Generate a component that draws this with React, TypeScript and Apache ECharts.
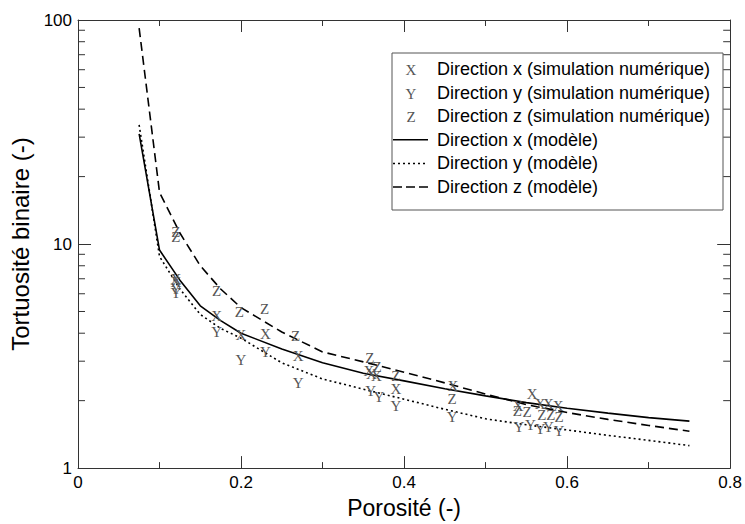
import React, { useEffect, useRef } from 'react';
import * as echarts from 'echarts';

// Model curves (porosity -> tortuosity)
const modelPorosity = [0.075, 0.1, 0.125, 0.15, 0.175, 0.2, 0.25, 0.3, 0.35, 0.4, 0.45, 0.5, 0.55, 0.6, 0.65, 0.7, 0.75];
const modelX = [31, 9.4, 6.9, 5.3, 4.55, 4.0, 3.4, 2.95, 2.65, 2.45, 2.26, 2.1, 1.96, 1.85, 1.76, 1.68, 1.62];
const modelY = [34, 8.8, 6.3, 4.85, 4.2, 3.8, 2.95, 2.5, 2.25, 2.03, 1.83, 1.66, 1.56, 1.48, 1.4, 1.33, 1.26];
const modelZ = [92, 17, 11.2, 8.0, 6.3, 5.2, 4.05, 3.3, 2.98, 2.68, 2.4, 2.14, 1.92, 1.77, 1.65, 1.55, 1.46];

// Numerical simulation points
const simXPorosity = [0.12, 0.12, 0.17, 0.2, 0.23, 0.27, 0.357, 0.36, 0.366, 0.39, 0.46, 0.54, 0.557, 0.567, 0.577, 0.589];
const simXValues = [7.0, 6.8, 4.78, 3.91, 3.98, 3.16, 2.7, 2.62, 2.58, 2.25, 2.32, 1.9, 2.14, 1.93, 1.93, 1.9];
const simYPorosity = [0.12, 0.12, 0.17, 0.2, 0.23, 0.27, 0.359, 0.369, 0.39, 0.459, 0.541, 0.555, 0.567, 0.577, 0.59];
const simYValues = [6.05, 6.3, 4.05, 3.04, 3.31, 2.4, 2.21, 2.07, 1.9, 1.69, 1.53, 1.55, 1.49, 1.53, 1.46];
const simZPorosity = [0.12, 0.12, 0.17, 0.198, 0.229, 0.267, 0.358, 0.367, 0.39, 0.459, 0.539, 0.551, 0.569, 0.58, 0.59];
const simZValues = [11.3, 10.8, 6.2, 4.95, 5.12, 3.9, 3.09, 2.84, 2.57, 2.03, 1.79, 1.78, 1.73, 1.72, 1.69];

// Axis
const xTicks = { min: 0, max: 0.8, interval: 0.2 };
const yRange = { min: 1, max: 100 };
const yMinorTickValues = [2, 3, 4, 5, 6, 7, 8, 9, 20, 30, 40, 50, 60, 70, 80, 90];

// Legend labels
const legendLabels = [
  'Direction x (simulation numérique)',
  'Direction y (simulation numérique)',
  'Direction z (simulation numérique)',
  'Direction x (modèle)',
  'Direction y (modèle)',
  'Direction z (modèle)',
];
const glyphs = ['X', 'Y', 'Z'];

const SANS = '"Liberation Sans", Arial, Helvetica, sans-serif';
const SERIF = '"Liberation Serif", "Times New Roman", serif';
const AXIS_COLOR = '#333';
const GLYPH_COLOR = '#555';

export default function App() {
  const ref = useRef<HTMLDivElement>(null);

  useEffect(() => {
    if (!ref.current) return;
    const chart = echarts.init(ref.current, null, { renderer: 'svg' });

    const glyphSeries = (name: string, letter: string, xs: number[], ys: number[]) => ({
      type: 'custom',
      name,
      xAxisIndex: 0,
      yAxisIndex: 0,
      encode: { x: 0, y: 1 },
      data: xs.map((x, i) => [x, ys[i]]),
      clip: false,
      z: 4,
      silent: true,
      renderItem: (_p: any, api: any) => {
        const pt = api.coord([api.value(0), api.value(1)]);
        return {
          type: 'text',
          x: pt[0],
          y: pt[1],
          style: {
            text: letter,
            fill: GLYPH_COLOR,
            font: `15px ${SERIF}`,
            align: 'center',
            verticalAlign: 'middle',
          },
        };
      },
    });

    const lineSeries = (name: string, vals: number[], type: any, width: number) => ({
      type: 'line',
      name,
      xAxisIndex: 0,
      yAxisIndex: 0,
      data: modelPorosity.map((x, i) => [x, vals[i]]),
      symbol: 'none',
      silent: true,
      z: 3,
      lineStyle: { color: '#000', width, type },
    });

    const tickStyle = { color: AXIS_COLOR, width: 1 };
    const rowY = (i: number) => 69 + i * 23.6;
    const legendGraphics: any[] = [
      {
        type: 'rect',
        shape: { x: 392, y: 53, width: 331, height: 157 },
        style: { fill: '#fff', stroke: '#555', lineWidth: 1 },
        z: 10,
      },
    ];
    legendLabels.forEach((label, i) => {
      legendGraphics.push({
        type: 'text',
        x: 437,
        y: rowY(i),
        style: { text: label, font: `18px ${SANS}`, fill: '#000', verticalAlign: 'middle', align: 'left' },
        z: 11,
      });
      if (i < 3) {
        legendGraphics.push({
          type: 'text',
          x: 411,
          y: rowY(i) + 1,
          style: { text: glyphs[i], font: `15px ${SERIF}`, fill: GLYPH_COLOR, align: 'center', verticalAlign: 'middle' },
          z: 11,
        });
      } else {
        const dash = i === 3 ? 'solid' : i === 4 ? [2, 3] : [9, 4];
        legendGraphics.push({
          type: 'line',
          shape: { x1: 393, y1: rowY(i), x2: 428, y2: rowY(i) },
          style: { stroke: '#000', lineWidth: 1.5, lineDash: dash === 'solid' ? null : dash },
          z: 11,
        });
      }
    });

    chart.setOption({
      animation: false,
      backgroundColor: '#fff',
      grid: { left: 78, right: 13, top: 20, bottom: 47, containLabel: false },
      xAxis: [
        {
          type: 'value',
          position: 'bottom',
          ...xTicks,
          name: 'Porosité (-)',
          nameLocation: 'middle',
          nameGap: 22,
          nameTextStyle: { fontSize: 23, fontFamily: SANS, color: '#000', verticalAlign: 'top' },
          axisLine: { show: true, onZero: false, lineStyle: tickStyle },
          axisTick: { show: true, inside: true, length: 12, lineStyle: tickStyle },
          minorTick: { show: true, splitNumber: 2, length: 6, lineStyle: tickStyle },
          axisLabel: { fontSize: 17, fontFamily: SANS, color: '#000', margin: 6 },
          splitLine: { show: false },
        },
        {
          type: 'value',
          position: 'top',
          ...xTicks,
          axisLine: { show: true, onZero: false, lineStyle: tickStyle },
          axisTick: { show: true, inside: true, length: 12, lineStyle: tickStyle },
          minorTick: { show: true, splitNumber: 2, length: 6, lineStyle: tickStyle },
          axisLabel: { show: false },
          splitLine: { show: false },
        },
      ],
      yAxis: [
        {
          type: 'log',
          logBase: 10,
          ...yRange,
          position: 'left',
          name: 'Tortuosité binaire (-)',
          nameLocation: 'middle',
          nameGap: 44,
          nameRotate: 90,
          nameTextStyle: { fontSize: 24, fontFamily: SANS, color: '#000' },
          axisLine: { show: true, onZero: false, lineStyle: tickStyle },
          axisTick: { show: true, inside: true, length: 13, lineStyle: tickStyle },
          axisLabel: { fontSize: 17, fontFamily: SANS, color: '#000', margin: 6 },
          splitLine: { show: false },
        },
        {
          type: 'log',
          logBase: 10,
          ...yRange,
          position: 'right',
          axisLine: { show: true, onZero: false, lineStyle: tickStyle },
          axisTick: { show: true, inside: true, length: 13, lineStyle: tickStyle },
          axisLabel: { show: false },
          splitLine: { show: false },
        },
      ],
      series: [
        lineSeries('Direction x (modèle)', modelX, 'solid', 1.6),
        lineSeries('Direction y (modèle)', modelY, [2, 3], 1.6),
        lineSeries('Direction z (modèle)', modelZ, [9, 5], 1.6),
        glyphSeries('Direction x (simulation numérique)', 'X', simXPorosity, simXValues),
        glyphSeries('Direction y (simulation numérique)', 'Y', simYPorosity, simYValues),
        glyphSeries('Direction z (simulation numérique)', 'Z', simZPorosity, simZValues),
        {
          type: 'custom',
          name: 'minor ticks',
          xAxisIndex: 0,
          yAxisIndex: 0,
          encode: { x: 0, y: 1 },
          data: yMinorTickValues.map((v) => [xTicks.min, v]),
          clip: false,
          silent: true,
          z: 2,
          renderItem: (_p: any, api: any) => {
            const v = api.value(1);
            const l = api.coord([xTicks.min, v]);
            const r = api.coord([xTicks.max, v]);
            return {
              type: 'group',
              children: [
                { type: 'line', shape: { x1: l[0], y1: l[1], x2: l[0] + 7, y2: l[1] }, style: { stroke: AXIS_COLOR, lineWidth: 1 } },
                { type: 'line', shape: { x1: r[0], y1: r[1], x2: r[0] - 7, y2: r[1] }, style: { stroke: AXIS_COLOR, lineWidth: 1 } },
              ],
            };
          },
        },
      ],
      graphic: legendGraphics,
    });

    return () => chart.dispose();
  }, []);

  return (
    <div
      ref={ref}
      style={{ position: 'fixed', left: 0, top: 0, width: 745, height: 524, background: '#fff' }}
    />
  );
}
